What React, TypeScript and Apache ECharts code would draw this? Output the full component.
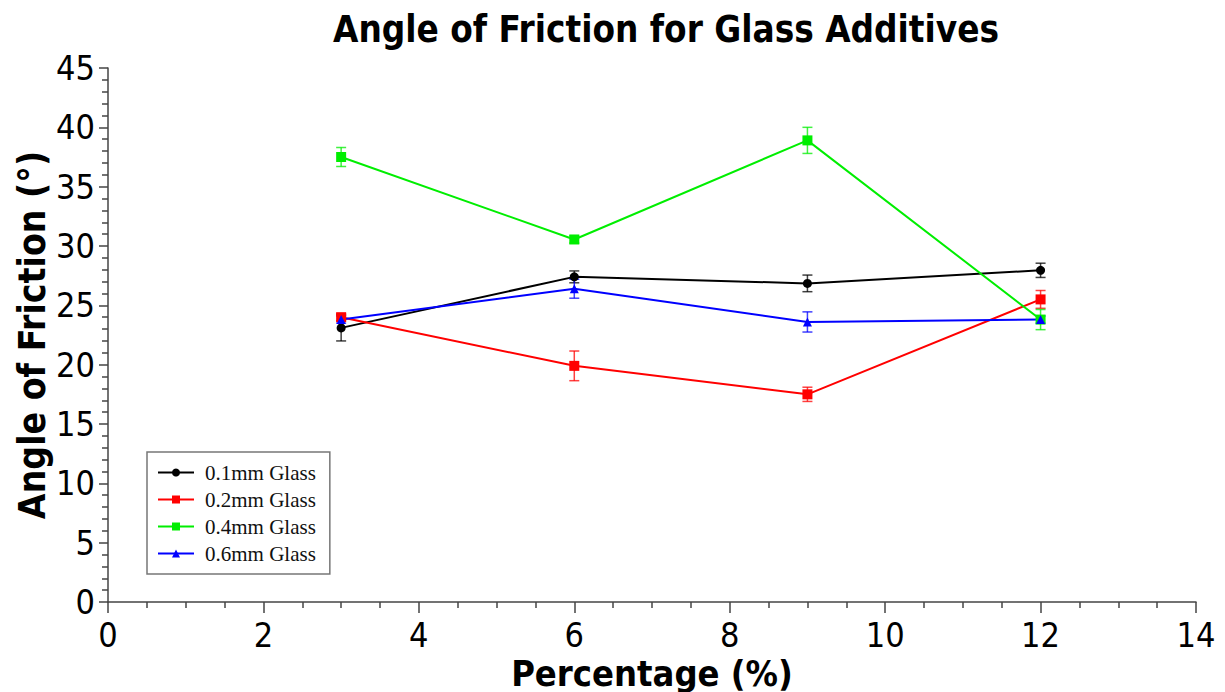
import React, { useEffect, useRef } from "react";
import * as echarts from "echarts";

const xValues = [3, 6, 9, 12];
const seriesNames = ["0.1mm Glass", "0.2mm Glass", "0.4mm Glass", "0.6mm Glass"];
const glass01 = [23.1, 27.4, 26.85, 27.95];
const glass01Err = [1.1, 0.5, 0.7, 0.6];
const glass02 = [24.0, 19.9, 17.5, 25.5];
const glass02Err = [0.3, 1.25, 0.6, 0.75];
const glass04 = [37.5, 30.55, 38.9, 23.8];
const glass04Err = [0.8, 0.3, 1.1, 0.85];
const glass06 = [23.8, 26.4, 23.6, 23.8];
const glass06Err = [0.3, 0.8, 0.85, 0.3];
const colors = ["#000000", "#ff0000", "#00ee00", "#0000ff"];
const symbols = ["circle", "rect", "rect", "triangle"];
const symbolSizes = [9, 10, 10, 9];

const values = [glass01, glass02, glass04, glass06];
const errors = [glass01Err, glass02Err, glass04Err, glass06Err];

const FONT = "'DejaVu Sans Condensed', 'DejaVu Sans', sans-serif";

export default function App() {
  const ref = useRef<HTMLDivElement>(null);
  useEffect(() => {
    if (!ref.current) return;
    const chart = echarts.init(ref.current, null, { renderer: "svg" });
    const series: any[] = [];
    values.forEach((vals, i) => {
      series.push({
        name: seriesNames[i] + " err",
        type: "custom",
        data: xValues.map((x, j) => [x, vals[j] - errors[i][j], vals[j] + errors[i][j]]),
        renderItem: (params: any, api: any) => {
          const lo = api.coord([api.value(0), api.value(1)]);
          const hi = api.coord([api.value(0), api.value(2)]);
          const hw = 5;
          const style = { stroke: colors[i], lineWidth: 1.5, opacity: 0.75 };
          return {
            type: "group",
            children: [
              { type: "line", shape: { x1: lo[0], y1: lo[1], x2: hi[0], y2: hi[1] }, style },
              { type: "line", shape: { x1: lo[0] - hw, y1: lo[1], x2: lo[0] + hw, y2: lo[1] }, style },
              { type: "line", shape: { x1: hi[0] - hw, y1: hi[1], x2: hi[0] + hw, y2: hi[1] }, style },
            ],
          };
        },
        z: 1,
      });
    });
    values.forEach((vals, i) => {
      series.push({
        name: seriesNames[i],
        type: "line",
        data: xValues.map((x, j) => [x, vals[j]]),
        symbol: symbols[i],
        symbolSize: symbolSizes[i],
        showSymbol: true,
        lineStyle: { color: colors[i], width: 2 },
        itemStyle: { color: colors[i] },
        z: 3,
      });
    });
    chart.setOption({
      animation: false,
      backgroundColor: "#ffffff",
      title: {
        text: "Angle of Friction for Glass Additives",
        left: 661,
        textAlign: "center",
        top: 6,
        textStyle: { fontFamily: FONT, fontWeight: "bold", fontSize: 36.5, color: "#000" },
      },
      legend: {
        data: seriesNames,
        orient: "vertical",
        left: 147,
        top: 452,
        padding: [10, 14, 10, 10],
        itemGap: 6,
        itemWidth: 36,
        itemHeight: 10,
        borderColor: "#777",
        borderWidth: 1.5,
        textStyle: { fontFamily: "'Liberation Serif', serif", fontSize: 21, color: "#111", padding: [0, 0, 0, 6] },
      },
      grid: { left: 108, right: 29, top: 68, bottom: 90, containLabel: false, outerBoundsMode: "none" },
      xAxis: {
        type: "value",
        min: 0,
        max: 14,
        interval: 2,
        name: "Percentage (%)",
        nameLocation: "middle",
        nameGap: 54,
        nameMoveOverlap: false,
        nameTextStyle: { fontFamily: FONT, fontWeight: "bold", fontSize: 36, lineHeight: 34, color: "#000" },
        axisLine: { show: true, lineStyle: { color: "#444", width: 1.5 } },
        axisTick: { show: true, length: 11, lineStyle: { color: "#444", width: 1.5 } },
        minorTick: { show: true, splitNumber: 4, length: 6, lineStyle: { color: "#444", width: 1.5 } },
        axisLabel: { fontFamily: FONT, fontSize: 34, lineHeight: 26, color: "#000", margin: 20 },
        splitLine: { show: false },
      },
      yAxis: {
        type: "value",
        min: 0,
        max: 45,
        interval: 5,
        name: "Angle of Friction (°)",
        nameLocation: "middle",
        nameGap: 57,
        nameMoveOverlap: false,
        nameTextStyle: { fontFamily: FONT, fontWeight: "bold", fontSize: 37, color: "#000" },
        axisLine: { show: true, lineStyle: { color: "#444", width: 1.5 } },
        axisTick: { show: true, length: 9, lineStyle: { color: "#444", width: 1.5 } },
        minorTick: { show: true, splitNumber: 5, length: 6, lineStyle: { color: "#444", width: 1.5 } },
        axisLabel: { fontFamily: FONT, fontSize: 34, color: "#000", margin: 13 },
        splitLine: { show: false },
      },
      series,
    });
    return () => chart.dispose();
  }, []);
  return <div ref={ref} style={{ width: 1225, height: 692, position: "absolute", left: 0, top: 0 }} />;
}
